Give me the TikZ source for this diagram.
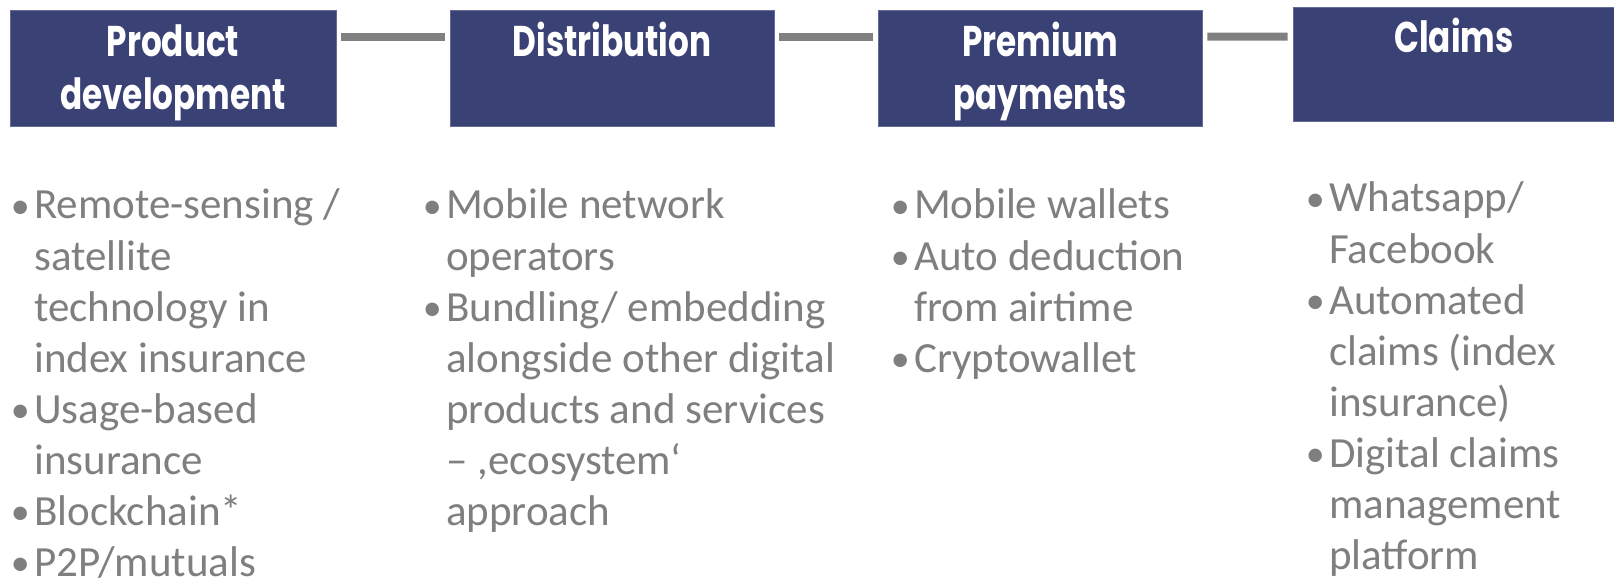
\documentclass[tikz,border=0pt]{standalone}
\usepackage{fontspec}
\setmainfont{Carlito}
\newfontfamily\headfont[FakeStretch=0.76]{Poppins}
\definecolor{boxblue}{RGB}{58,66,117}
\definecolor{boxline}{RGB}{100,108,150}
\definecolor{conngray}{RGB}{128,128,128}
\definecolor{txtgray}{RGB}{127,127,127}
\tikzset{
  stagebox/.style={rectangle, fill=boxblue, draw=boxline, line width=0.6bp, inner sep=0pt},
  stagetitle/.style={anchor=base, inner sep=0pt, text=white, font=\headfont\bfseries\fontsize{43bp}{53bp}\selectfont},
  conn/.style={draw=conngray, line width=8bp, shorten <=5bp, shorten >=5bp},
  bullets/.style={anchor=base west, inner sep=0pt, text=txtgray, font=\fontsize{43bp}{51bp}\selectfont}
}
\newcommand{\itm}{\leavevmode\llap{\raisebox{0.5bp}{\fontsize{38bp}{38bp}\selectfont\textbullet}\hspace{4.5bp}}}
\begin{document}
\begin{tikzpicture}[x=1bp,y=-1bp]
\useasboundingbox (0,0) rectangle (1614,580);
\fill[white] (0,0) rectangle (1614,580);
% boxes
\node[stagebox, minimum width=326bp, minimum height=116bp] (b1) at (173,68) {};
\node[stagebox, minimum width=324bp, minimum height=116bp] (b2) at (612,68) {};
\node[stagebox, minimum width=324bp, minimum height=116bp] (b3) at (1040,68) {};
\node[stagebox, minimum width=322bp, minimum height=114bp] (b4) at (1454,64) {};
% titles
\node[stagetitle] (t1a) at (173,57) {Product};
\node[stagetitle] (t1b) at (173,110) {development};
\node[stagetitle] (t2) at (612,57) {Distribution};
\node[stagetitle] (t3a) at (1040,57) {Premium};
\node[stagetitle] (t3b) at (1040,110) {payments};
\node[stagetitle] (t4) at (1454,53) {Claims};
% connectors
\draw[conn] ([yshift=-27bp]b1.north east) -- ([yshift=-27bp]b2.north west);
\draw[conn] ([yshift=-27bp]b2.north east) -- ([yshift=-27bp]b3.north west);
\draw[conn] ([yshift=-27bp]b3.north east) -- ([yshift=-30bp]b4.north west);
% bullet lists
\node[bullets] (l1) at (34,219) {\parbox[t]{380bp}{\raggedright
\itm Remote-sensing /\\ satellite\\ technology in\\ index insurance\\
\itm Usage-based\\ insurance\\
\itm Blockchain*\\
\itm P2P/mutuals}};
\node[bullets] (l2) at (446,219) {\parbox[t]{420bp}{\raggedright
\itm Mobile network\\ operators\\
\itm Bundling/ embedding\\ alongside other digital\\ products and services\\ -- ,ecosystem`\\ approach}};
\node[bullets] (l3) at (914,219) {\parbox[t]{380bp}{\raggedright
\itm Mobile wallets\\
\itm Auto deduction\\ from airtime\\
\itm Cryptowallet}};
\node[bullets] (l4) at (1329,212) {\parbox[t]{280bp}{\raggedright
\itm Whatsapp/\\ Facebook\\
\itm Automated\\ claims (index\\ insurance)\\
\itm Digital claims\\ management\\ platform}};
\end{tikzpicture}
\end{document}
